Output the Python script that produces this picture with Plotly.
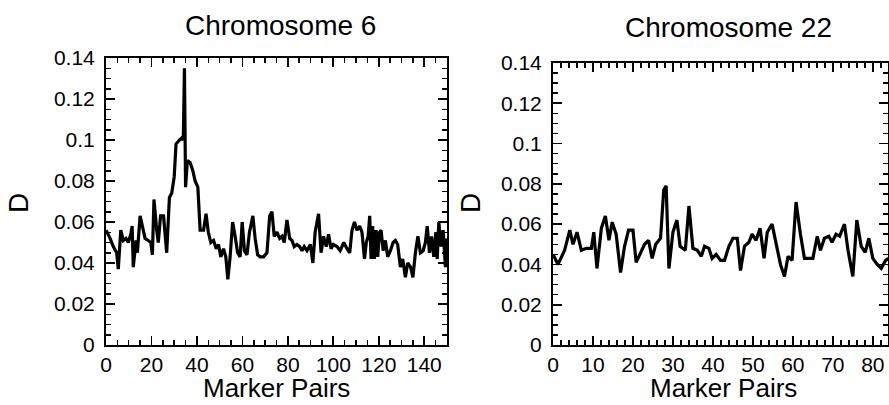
import plotly.graph_objects as go

# ---------------- data ----------------
chr6_x = [0, 1.8, 3.2, 4.7, 5.4, 6.5, 7.6, 8.8, 9.8, 10.9, 11.5, 12, 13.2, 13.8, 15, 16.2, 17.2,
          18.6, 19.7, 20.4, 21.1, 22.3, 23, 24, 25.3, 26, 26.7, 27.9, 28.9, 30, 30.8, 32.3, 33.3,
          34, 34.5, 35, 35.8, 37, 38.2, 39.2, 40.4, 41.4, 42.9, 44, 45, 46.1, 47.3, 48.5, 49.5,
          50.5, 51.7, 52.7, 53.6, 54.6, 55.7, 56.8, 57.9, 59, 59.9, 60.9, 62, 63.1, 64.6, 65.6,
          66.7, 67.8, 69.3, 70.8, 72, 73, 74, 75.2, 76.4, 77.4, 78.4, 79.6, 80.8, 81.8, 82.8, 84,
          85.2, 86.2, 87.2, 88.4, 89.9, 91, 92, 93.5, 94.6, 95.7, 96.9, 97.9, 99, 100, 101.6, 103,
          104.6, 106, 107.2, 108.2, 109.3, 110.4, 111.6, 112.6, 113.7, 114.5, 115.3, 116, 116.6,
          117.3, 118, 118.8, 119.5, 120.3, 121, 121.9, 122.9, 123.9, 125.1, 126.3, 127.3, 128.3,
          129.5, 130.5, 131.7, 132.7, 134, 135, 136.1, 137.2, 138.3, 139.5, 140.5, 141.3, 142.3,
          143.2, 144.2, 145.1, 145.7, 146.4, 147.4, 148.3, 149.3, 150]
chr6_d = [0.056, 0.052, 0.048, 0.045, 0.037, 0.056, 0.051, 0.052, 0.050, 0.054, 0.058, 0.038, 0.051,
          0.045, 0.063, 0.056, 0.052, 0.051, 0.050, 0.044, 0.071, 0.056, 0.050, 0.063, 0.063, 0.054,
          0.045, 0.072, 0.074, 0.082, 0.098, 0.100, 0.101, 0.100, 0.135, 0.077, 0.090, 0.089, 0.085,
          0.080, 0.077, 0.056, 0.056, 0.064, 0.055, 0.050, 0.051, 0.047, 0.049, 0.043, 0.047, 0.043,
          0.032, 0.043, 0.060, 0.053, 0.045, 0.043, 0.060, 0.046, 0.044, 0.055, 0.063, 0.052, 0.044,
          0.043, 0.043, 0.045, 0.063, 0.065, 0.053, 0.055, 0.052, 0.053, 0.050, 0.061, 0.052, 0.051,
          0.048, 0.049, 0.048, 0.046, 0.048, 0.046, 0.049, 0.040, 0.055, 0.064, 0.045, 0.053, 0.048,
          0.054, 0.047, 0.049, 0.048, 0.046, 0.050, 0.047, 0.045, 0.056, 0.060, 0.056, 0.058, 0.055,
          0.042, 0.050, 0.053, 0.063, 0.042, 0.058, 0.042, 0.056, 0.043, 0.055, 0.056, 0.046, 0.051,
          0.043, 0.046, 0.050, 0.051, 0.049, 0.038, 0.042, 0.033, 0.040, 0.038, 0.033, 0.045, 0.053,
          0.045, 0.046, 0.050, 0.058, 0.045, 0.053, 0.043, 0.055, 0.042, 0.060, 0.048, 0.056, 0.038,
          0.052]

chr22_x = [0, 1.25, 2.9, 4.2, 5, 6, 7.1, 8.3, 9.6, 10.2, 11, 12.1, 13.1, 14, 14.8, 15.8, 16.9,
           17.9, 18.9, 20, 20.8, 21.7, 22.9, 23.9, 24.8, 25.7, 26.9, 27.7, 28.3, 29, 30, 31, 31.8,
           33.1, 34, 35, 36.1, 37.1, 37.9, 39, 39.8, 40.8, 41.9, 42.9, 44, 45, 46.1, 46.9, 47.9,
           49, 49.8, 50.8, 51.8, 52.8, 53.6, 54.8, 55.8, 56.9, 57.9, 58.8, 59.8, 60.8, 61.9, 62.9,
           63.9, 65, 66.1, 66.9, 67.9, 69, 69.8, 70.8, 71.7, 72.9, 73.8, 75, 76, 77.1, 78.1, 79,
           80, 81.1, 82.1, 83.2, 83.9]
chr22_d = [0.045, 0.040, 0.047, 0.057, 0.050, 0.056, 0.047, 0.048, 0.048, 0.056, 0.038, 0.058,
           0.064, 0.052, 0.061, 0.055, 0.036, 0.049, 0.057, 0.057, 0.041, 0.045, 0.050, 0.052,
           0.043, 0.050, 0.053, 0.077, 0.079, 0.038, 0.056, 0.062, 0.049, 0.047, 0.069, 0.048,
           0.047, 0.044, 0.049, 0.048, 0.043, 0.045, 0.042, 0.042, 0.049, 0.053, 0.053, 0.037,
           0.049, 0.051, 0.055, 0.052, 0.058, 0.043, 0.056, 0.060, 0.050, 0.040, 0.034, 0.044,
           0.042, 0.071, 0.055, 0.043, 0.043, 0.043, 0.054, 0.047, 0.053, 0.054, 0.051, 0.055,
           0.054, 0.060, 0.047, 0.034, 0.062, 0.049, 0.046, 0.053, 0.043, 0.040, 0.038, 0.042,
           0.043]

y_ticks = [0, 0.02, 0.04, 0.06, 0.08, 0.1, 0.12, 0.14]
y_labels = ["0", "0.02", "0.04", "0.06", "0.08", "0.1", "0.12", "0.14"]
x6_ticks = [0, 20, 40, 60, 80, 100, 120, 140]
x22_ticks = [0, 10, 20, 30, 40, 50, 60, 70, 80]

titles = ["Chromosome 6", "Chromosome 22"]
x_title = "Marker Pairs"
y_title = "D"

# ---------------- figure ----------------
W, H = 889, 405
FONT = "Liberation Sans, Arial, Helvetica, sans-serif"

fig = go.Figure()
fig.add_trace(go.Scatter(x=chr6_x, y=chr6_d, mode="lines",
                         line=dict(color="black", width=3.2), xaxis="x", yaxis="y",
                         showlegend=False, hoverinfo="skip"))
fig.add_trace(go.Scatter(x=chr22_x, y=chr22_d, mode="lines",
                         line=dict(color="black", width=3.2), xaxis="x2", yaxis="y2",
                         showlegend=False, hoverinfo="skip"))

def px_x(p):
    return p / W

def px_y(p):
    return 1 - p / H

common_axis = dict(showline=True, linecolor="black", linewidth=2, mirror="allticks",
                   ticks="inside", ticklen=9, tickwidth=1.8, tickcolor="black",
                   showgrid=False, zeroline=False, automargin=False,
                   tickfont=dict(family=FONT, size=21, color="black"))

minor_x6 = dict(dtick=5, ticks="inside", ticklen=5, tickwidth=1.5, tickcolor="black")
minor_x22 = dict(dtick=2, ticks="inside", ticklen=5, tickwidth=1.5, tickcolor="black")
minor_y = dict(dtick=0.005, ticks="inside", ticklen=5, tickwidth=1.5, tickcolor="black")

fig.update_layout(
    width=W, height=H,
    margin=dict(l=0, r=0, t=0, b=0, autoexpand=False),
    paper_bgcolor="white", plot_bgcolor="white",
    xaxis=dict(domain=[px_x(106), px_x(447)], range=[0, 150], anchor="y",
               tickvals=x6_ticks, minor=minor_x6, **common_axis),
    yaxis=dict(domain=[px_y(345), px_y(58)], range=[0, 0.14], anchor="x",
               tickvals=y_ticks, ticktext=y_labels, minor=minor_y,
               ticklabelstandoff=5, **common_axis),
    xaxis2=dict(domain=[px_x(553), px_x(888)], range=[0, 83.8], anchor="y2",
                tickvals=x22_ticks, minor=minor_x22, **common_axis),
    yaxis2=dict(domain=[px_y(345), px_y(63)], range=[0, 0.14], anchor="x2",
                tickvals=y_ticks, ticktext=y_labels, minor=minor_y,
                ticklabelstandoff=5, **common_axis),
)

ann_font = dict(family=FONT, size=28, color="black")
axt_font = dict(family=FONT, size=26, color="black")
annotations = [
    dict(text=titles[0], x=px_x(280), y=px_y(25), xref="paper", yref="paper",
         xanchor="center", yanchor="middle", showarrow=False, font=ann_font),
    dict(text=titles[1], x=px_x(728), y=px_y(28), xref="paper", yref="paper",
         xanchor="center", yanchor="middle", showarrow=False, font=ann_font),
    dict(text=x_title, x=px_x(276), y=0, xref="paper", yref="paper",
         xanchor="center", yanchor="bottom", showarrow=False, font=axt_font),
    dict(text=x_title, x=px_x(723), y=0, xref="paper", yref="paper",
         xanchor="center", yanchor="bottom", showarrow=False, font=axt_font),
    dict(text=y_title, x=px_x(18), y=px_y(203), xref="paper", yref="paper", textangle=-90,
         xanchor="center", yanchor="middle", showarrow=False, font=ann_font),
    dict(text=y_title, x=px_x(470), y=px_y(203), xref="paper", yref="paper", textangle=-90,
         xanchor="center", yanchor="middle", showarrow=False, font=ann_font),
]
fig.update_layout(annotations=annotations)

fig.write_html("out.html",
               config={"displayModeBar": False, "staticPlot": True},
               post_script="document.body.style.margin='0';"
                           "document.body.style.overflow='hidden';")
